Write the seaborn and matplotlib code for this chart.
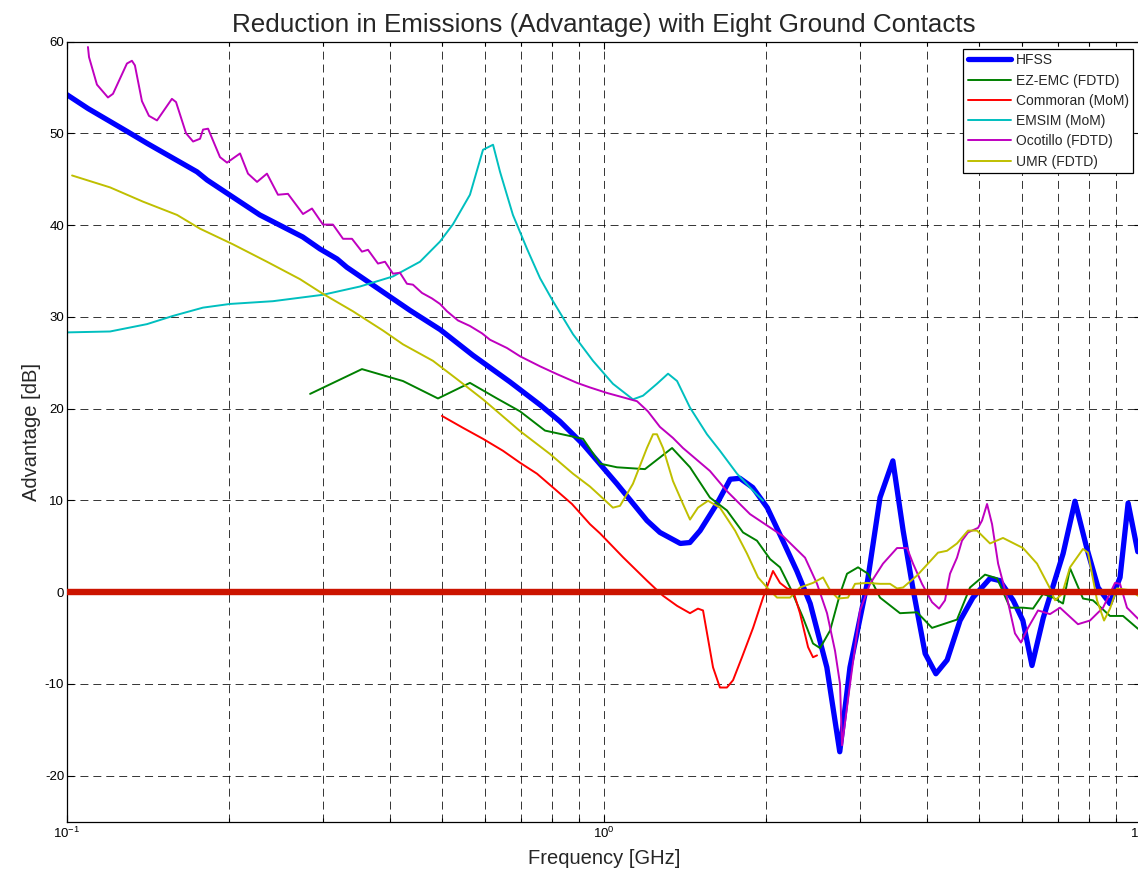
import matplotlib
matplotlib.use("Agg")
import matplotlib.pyplot as plt
from matplotlib.ticker import LogLocator, NullFormatter
import pandas as pd
import seaborn as sns

# ---- series data (frequency in GHz, advantage in dB) ----
hfss_freq = [0.1, 0.1094, 0.1294, 0.141, 0.1746, 0.1824, 0.2286, 0.2748, 0.2958, 0.3184,
             0.3319, 0.4352, 0.4955, 0.5702, 0.6683, 0.7603, 0.8279, 0.9141, 1.057, 1.202,
             1.271, 1.387, 1.445, 1.510, 1.622, 1.718, 1.791, 1.892, 2.014, 2.153,
             2.286, 2.421, 2.600, 2.748, 2.871, 3.090, 3.266, 3.451, 3.606, 3.758,
             3.963, 4.150, 4.355, 4.603, 4.864, 5.236, 5.458, 5.781, 6.026, 6.266,
             6.577, 7.161, 7.534, 7.925, 8.318, 8.750, 9.141, 9.462, 9.863]
hfss_db = [54.2, 52.7, 50.2, 48.9, 45.8, 44.9, 41.1, 38.7, 37.4, 36.3,
           35.4, 30.7, 28.6, 25.8, 22.9, 20.4, 18.6, 16.1, 11.8, 7.8,
           6.5, 5.3, 5.4, 6.7, 9.6, 12.3, 12.4, 11.4, 9.2, 5.6,
           2.3, -1.25, -8.2, -17.4, -8.2, 0.9, 10.3, 14.3, 6.7, 0.5,
           -6.7, -8.9, -7.4, -3.1, -0.6, 1.5, 1.25, -0.9, -3.1, -8.0,
           -2.8, 4.2, 9.9, 4.8, 0.5, -1.25, 1.6, 9.7, 4.4]

ezemc_freq = [0.2836, 0.3542, 0.4223, 0.4907, 0.5628, 0.6320, 0.6975, 0.7765, 0.914, 0.983,
              1.057, 1.192, 1.339, 1.446, 1.575, 1.694, 1.815, 1.927, 2.038, 2.127,
              2.221, 2.348, 2.450, 2.525, 2.636, 2.751, 2.835, 2.972, 3.102, 3.266,
              3.558, 3.827, 4.082, 4.543, 4.804, 5.123, 5.394, 5.703, 6.030, 6.294,
              6.570, 6.858, 7.157, 7.376, 7.798, 8.140, 8.755, 9.259, 9.872]
ezemc_db = [21.6, 24.3, 23.0, 21.1, 22.8, 21.1, 19.7, 17.6, 16.7, 14.0,
            13.6, 13.4, 15.7, 13.6, 10.3, 8.9, 6.5, 5.6, 3.6, 2.7,
            0.5, -2.8, -5.6, -6.1, -4.2, -0.2, 2.0, 2.7, 2.0, -0.6,
            -2.3, -2.2, -3.9, -3.0, 0.5, 1.9, 1.5, -1.7, -1.7, -1.8,
            -0.2, -0.6, -1.25, 2.6, -0.7, -0.9, -2.6, -2.6, -4.0]

commoran_freq = [0.4991, 0.5462, 0.5952, 0.6484, 0.6975, 0.7503, 0.8035, 0.8717, 0.9417, 0.983,
                 1.085, 1.202, 1.288, 1.368, 1.446, 1.496, 1.529, 1.596, 1.644, 1.694,
                 1.739, 1.807, 1.895, 1.978, 2.064, 2.127, 2.192, 2.249, 2.317, 2.399,
                 2.450, 2.493]
commoran_db = [19.2, 17.9, 16.7, 15.4, 14.1, 12.9, 11.4, 9.6, 7.4, 6.4,
               3.8, 1.25, -0.4, -1.5, -2.3, -1.8, -2.0, -8.2, -10.4, -10.4,
               -9.6, -7.1, -3.9, -0.6, 2.3, 1.0, 0.4, 0.2, -2.3, -6.0,
               -7.1, -6.9]

emsim_freq = [0.1, 0.1203, 0.1409, 0.1576, 0.1792, 0.2011, 0.2418, 0.2997, 0.3512, 0.4046,
              0.4543, 0.4950, 0.5235, 0.5628, 0.5952, 0.6214, 0.6403, 0.6767, 0.7189, 0.7603,
              0.8035, 0.8756, 0.9539, 1.039, 1.132, 1.182, 1.255, 1.316, 1.368, 1.446,
              1.555, 1.644, 1.769, 1.870, 1.978]
emsim_db = [28.3, 28.4, 29.2, 30.1, 31.0, 31.4, 31.7, 32.4, 33.3, 34.4,
            36.0, 38.2, 40.1, 43.3, 48.2, 48.75, 45.8, 41.1, 37.4, 34.2,
            31.7, 28.1, 25.2, 22.7, 21.0, 21.4, 22.7, 23.8, 23.0, 20.1,
            17.2, 15.4, 12.9, 11.4, 9.95]

ocotillo_freq = [0.1094, 0.1099, 0.1137, 0.1192, 0.1218, 0.1293, 0.1321, 0.1338, 0.1379, 0.1421,
                 0.1471, 0.1568, 0.1596, 0.1666, 0.1717, 0.1769, 0.1792, 0.1831, 0.1927, 0.1986,
                 0.2100, 0.2173, 0.2259, 0.2357, 0.2471, 0.2579, 0.2751, 0.2859, 0.2997, 0.3128,
                 0.3266, 0.3394, 0.3542, 0.3635, 0.3794, 0.3910, 0.4046, 0.4169, 0.4296, 0.4408,
                 0.4582, 0.4783, 0.4950, 0.5101, 0.5347, 0.5628, 0.5926, 0.6133, 0.6596, 0.6975,
                 0.7603, 0.8176, 0.8906, 0.9417, 1.013, 1.104, 1.152, 1.207, 1.271, 1.344,
                 1.403, 1.575, 1.694, 1.870, 2.154, 2.368, 2.493, 2.602, 2.693, 2.751,
                 2.775, 2.872, 2.998, 3.129, 3.308, 3.513, 3.667, 3.763, 3.910, 4.082,
                 4.207, 4.315, 4.409, 4.543, 4.641, 4.763, 4.972, 5.058, 5.168, 5.280,
                 5.419, 5.629, 5.825, 5.977, 6.160, 6.430, 6.769, 7.066, 7.632, 8.035,
                 8.497, 8.946, 9.139, 9.417, 9.872]
ocotillo_db = [59.4, 58.3, 55.3, 53.9, 54.3, 57.6, 57.9, 57.4, 53.5, 51.9,
               51.4, 53.75, 53.4, 50.0, 49.1, 49.4, 50.4, 50.5, 47.4, 46.8,
               47.8, 45.6, 44.7, 45.6, 43.3, 43.4, 41.2, 41.8, 40.05, 40.05,
               38.5, 38.5, 37.1, 37.3, 35.8, 36.0, 34.7, 34.8, 33.6, 33.5,
               32.6, 32.0, 31.4, 30.6, 29.6, 29.0, 28.2, 27.5, 26.6, 25.7,
               24.6, 23.75, 22.8, 22.3, 21.7, 21.1, 20.8, 19.7, 18.0, 16.8,
               15.7, 13.2, 11.0, 8.5, 6.1, 3.75, 0.9, -2.3, -6.4, -10.0,
               -16.7, -10.0, -2.0, 0.9, 3.1, 4.8, 4.8, 3.1, 0.9, -1.1,
               -1.8, -0.9, 2.0, 3.75, 5.6, 6.5, 7.0, 7.8, 9.6, 7.4,
               3.1, -0.6, -4.5, -5.5, -3.9, -2.0, -2.4, -1.7, -3.5, -3.1,
               -1.7, 1.0, 0.9, -1.7, -2.9]

umr_freq = [0.1022, 0.1203, 0.1385, 0.1603, 0.1769, 0.2037, 0.2357, 0.2716, 0.2997, 0.3408,
            0.3877, 0.4223, 0.4803, 0.5325, 0.5952, 0.6320, 0.6975, 0.7932, 0.8756, 0.9417,
            0.983, 1.039, 1.071, 1.132, 1.202, 1.234, 1.255, 1.288, 1.344, 1.403,
            1.446, 1.496, 1.562, 1.644, 1.754, 1.846, 1.936, 2.012, 2.100, 2.221,
            2.317, 2.450, 2.558, 2.636, 2.728, 2.847, 2.934, 3.089, 3.266, 3.409,
            3.513, 3.605, 3.827, 4.188, 4.352, 4.543, 4.763, 4.950, 5.234, 5.534,
            6.030, 6.403, 6.769, 6.917, 7.127, 7.376, 7.798, 7.967, 8.282, 8.535,
            8.755, 9.021, 9.539, 9.872]
umr_db = [45.4, 44.1, 42.55, 41.1, 39.6, 37.9, 36.0, 34.1, 32.5, 30.6,
          28.5, 27.0, 25.2, 23.2, 21.0, 19.7, 17.55, 15.05, 12.9, 11.5,
          10.5, 9.2, 9.4, 11.8, 15.7, 17.2, 17.2, 15.7, 12.1, 9.6,
          7.9, 9.2, 9.95, 9.2, 6.7, 4.2, 1.6, 0.5, -0.6, -0.6,
          0.5, 1.0, 1.6, 0.2, -0.7, -0.6, 0.9, 1.0, 0.9, 0.9,
          0.4, 0.5, 1.8, 4.3, 4.5, 5.3, 6.7, 6.7, 5.3, 5.9,
          4.8, 3.1, 0.4, -0.9, -0.2, 2.7, 4.7, 4.3, -0.9, -3.1,
          -1.8, 0.4, 0.2, -0.4]

series_names = ["HFSS", "EZ-EMC (FDTD)", "Commoran (MoM)", "EMSIM (MoM)",
                "Ocotillo (FDTD)", "UMR (FDTD)"]
series_freqs = [hfss_freq, ezemc_freq, commoran_freq, emsim_freq, ocotillo_freq, umr_freq]
series_dbs = [hfss_db, ezemc_db, commoran_db, emsim_db, ocotillo_db, umr_db]
series_colors = ["#0000ff", "#008000", "#ff0000", "#00bfbf", "#bf00bf", "#bfbf00"]
series_widths = [3.8, 1.4, 1.4, 1.4, 1.4, 1.4]

zero_level = 0.0
y_ticks = [-20, -10, 0, 10, 20, 30, 40, 50, 60]

# ---- styling ----
sns.set_style("ticks")
plt.rcParams["font.family"] = ["Liberation Sans", "DejaVu Sans"]
plt.rcParams["mathtext.fontset"] = "custom"
plt.rcParams["mathtext.rm"] = "Liberation Sans"
plt.rcParams["mathtext.it"] = "Liberation Sans"
plt.rcParams["axes.unicode_minus"] = False
plt.rcParams["axes.edgecolor"] = "black"

fig = plt.figure(figsize=(11.38, 8.74), dpi=100)
W, H = 1138.0, 874.0
ax_left, ax_right, ax_top, ax_bottom = 67.0, 1141.0, 41.5, 821.5
ax = fig.add_axes([ax_left / W, 1 - ax_bottom / H,
                   (ax_right - ax_left) / W, (ax_bottom - ax_top) / H])
ax.set_xscale("log")

frames = []
for name, f, d in zip(series_names, series_freqs, series_dbs):
    frames.append(pd.DataFrame({"Frequency": f, "Advantage": d, "Solver": name}))
df = pd.concat(frames, ignore_index=True)

for name, color, lw in zip(series_names, series_colors, series_widths):
    sub = df[df["Solver"] == name]
    sns.lineplot(data=sub, x="Frequency", y="Advantage", color=color, linewidth=lw,
                 label=name, estimator=None, sort=False, legend=False, ax=ax,
                 solid_joinstyle="round")

# reference line at zero advantage
ax.axhline(zero_level, color="#cc1400", linewidth=4.6, zorder=5)

ax.set_xlim(0.1, 10)
ax.set_ylim(-25, 60)
ax.set_yticks(y_ticks)
ax.xaxis.set_major_locator(LogLocator(base=10))
ax.xaxis.set_minor_locator(LogLocator(base=10, subs=range(2, 10)))
ax.xaxis.set_minor_formatter(NullFormatter())

grid_style = dict(color="black", linestyle=(0, (8.2, 5.1)), linewidth=0.7, alpha=0.8)
ax.grid(which="both", axis="x", **grid_style)
ax.grid(which="major", axis="y", **grid_style)
ax.set_axisbelow(True)

ax.tick_params(which="both", direction="in", top=True, right=True, colors="black",
               labelsize=9.5)
ax.tick_params(which="major", length=5, width=0.8, pad=3)
ax.tick_params(which="minor", length=3, width=0.8)
ax.tick_params(axis="y", pad=2)
for s in ax.spines.values():
    s.set_linewidth(0.9)
    s.set_color("black")

ax.set_title("Reduction in Emissions (Advantage) with Eight Ground Contacts",
             fontsize=18.7, pad=7)
ax.set_xlabel("Frequency [GHz]", fontsize=14.5, labelpad=6)
ax.set_ylabel("Advantage [dB]", fontsize=14.5, labelpad=2.5)

leg = ax.legend(loc="upper right", fontsize=10, frameon=True, fancybox=False,
                framealpha=1, edgecolor="black", borderaxespad=0.55,
                handlelength=3.1, handletextpad=0.4, labelspacing=0.45,
                borderpad=0.3)
leg.get_frame().set_linewidth(0.9)

fig.savefig("out.png", dpi=100)
